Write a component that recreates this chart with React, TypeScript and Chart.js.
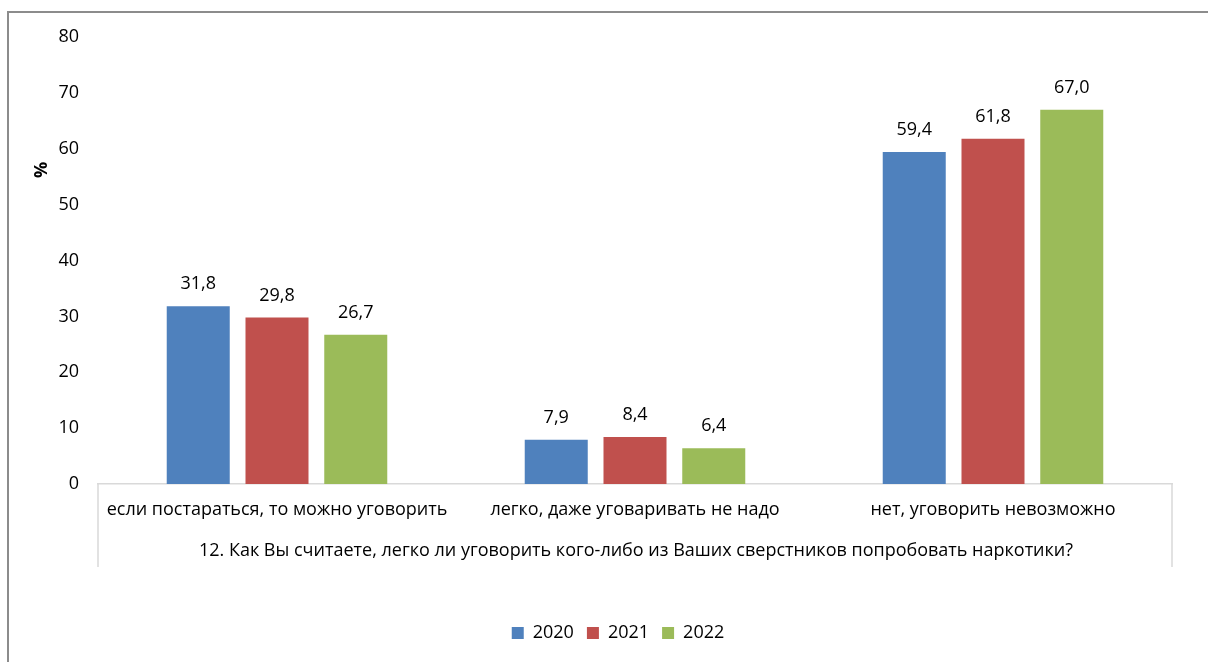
import React, { useEffect, useRef } from "react";
import { Chart, registerables } from "chart.js";

Chart.register(...registerables);

const categories = [
  "если постараться, то можно уговорить",
  "легко, даже уговаривать не надо",
  "нет, уговорить невозможно",
];
const groupLabel =
  "12. Как Вы считаете, легко ли уговорить кого-либо из Ваших сверстников попробовать наркотики?";
const seriesNames = ["2020", "2021", "2022"];
const values2020 = [31.8, 7.9, 59.4];
const values2021 = [29.8, 8.4, 61.8];
const values2022 = [26.7, 6.4, 67.0];
const colors = ["#4F81BD", "#C0504D", "#9BBB59"];
const yTicks = [0, 10, 20, 30, 40, 50, 60, 70, 80];

const FONT = "'Open Sans', sans-serif";
const FS = 18;
const PAD_LEFT = 64;
const PAD_BOTTOM = 10;

const unclipPlugin = {
  id: "unclip",
  afterLayout(chart: any) {
    const y = chart.scales.y;
    if (y) y.left = 0;
  },
};

const decorPlugin = {
  id: "decor",
  afterDraw(chart: any) {
    const ctx = chart.ctx;
    const area = chart.chartArea;
    ctx.save();
    // frame
    ctx.strokeStyle = "#8c8c8c";
    ctx.lineWidth = 2;
    ctx.beginPath();
    ctx.moveTo(8, chart.height);
    ctx.lineTo(8, 12);
    ctx.lineTo(chart.width, 12);
    ctx.stroke();
    // group label box lines
    ctx.strokeStyle = "#d9d9d9";
    ctx.lineWidth = 1.5;
    ctx.beginPath();
    ctx.moveTo(area.left, area.bottom);
    ctx.lineTo(area.left, 567);
    ctx.moveTo(area.right, area.bottom);
    ctx.lineTo(area.right, 567);
    ctx.stroke();
    // group label
    ctx.fillStyle = "#000";
    ctx.font = `${FS}px ${FONT}`;
    ctx.textAlign = "center";
    ctx.textBaseline = "middle";
    ctx.fillText(groupLabel, (area.left + area.right) / 2 + 1, 551);
    // % title
    ctx.font = `bold ${FS}px ${FONT}`;
    ctx.translate(42, 170);
    ctx.rotate(-Math.PI / 2);
    ctx.fillText("%", 0, 0);
    ctx.restore();
    // data labels
    ctx.save();
    ctx.font = `${FS}px ${FONT}`;
    ctx.fillStyle = "#000";
    ctx.textAlign = "center";
    ctx.textBaseline = "middle";
    chart.data.datasets.forEach((ds: any, i: number) => {
      const meta = chart.getDatasetMeta(i);
      meta.data.forEach((bar: any, j: number) => {
        const v = ds.data[j];
        ctx.fillText(v.toFixed(1).replace(".", ","), bar.x, bar.y - 22);
      });
    });
    ctx.restore();
  },
};

export default function App() {
  const ref = useRef<HTMLCanvasElement>(null);
  useEffect(() => {
    const chart = new Chart(ref.current!, {
      type: "bar",
      data: {
        labels: categories,
        datasets: [values2020, values2021, values2022].map((d, i) => ({
          label: seriesNames[i],
          data: d,
          backgroundColor: colors[i],
          borderWidth: 0,
          categoryPercentage: 0.66,
          barPercentage: 0.8,
        })),
      },
      options: {
        animation: false,
        responsive: false,
        maintainAspectRatio: false,
        layout: { padding: { left: PAD_LEFT, top: 37, right: 36, bottom: PAD_BOTTOM } },
        scales: {
          x: {
            grid: { display: false, drawTicks: false },
            border: { display: true, color: "#d9d9d9", width: 1.5 },
            ticks: { color: "#000", font: { family: FONT, size: FS }, padding: 15, maxRotation: 0 },
            afterFit: (scale: any) => {
              const lg = scale.chart.legend;
              scale.height = scale.chart.height - 484 - PAD_BOTTOM - (lg ? lg.height : 0);
            },
          },
          y: {
            min: 0,
            max: 80,
            grid: { display: false, drawTicks: false },
            border: { display: false },
            afterBuildTicks: (scale: any) => {
              scale.ticks = yTicks.map((v) => ({ value: v }));
            },
            ticks: { color: "#000", font: { family: FONT, size: FS }, padding: 19 },
            afterFit: (scale: any) => {
              scale.width = 98 - PAD_LEFT;
            },
          },
        },
        plugins: {
          legend: {
            position: "bottom",
            labels: {
              color: "#000",
              font: { family: FONT, size: FS },
              boxWidth: 12,
              boxHeight: 12,
              padding: 13,
            },
          },
          tooltip: { enabled: false },
        },
      },
      plugins: [unclipPlugin, decorPlugin],
    } as any);
    return () => chart.destroy();
  }, []);
  return (
    <div style={{ position: "fixed", left: 0, top: 0, width: 1208, height: 662, background: "#fff" }}>
      <canvas ref={ref} width={1208} height={662} style={{ width: 1208, height: 662 }} />
    </div>
  );
}
